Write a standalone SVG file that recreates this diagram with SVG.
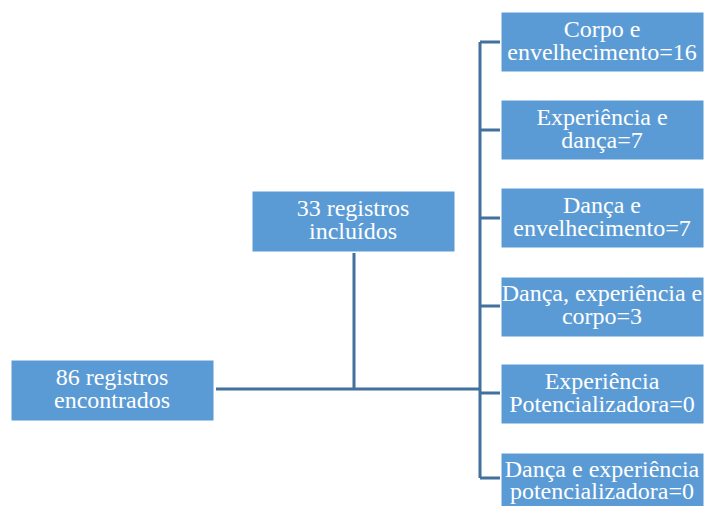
<svg xmlns="http://www.w3.org/2000/svg" width="704" height="506" viewBox="0 0 704 506">
<style>
.box{fill:#5B9BD5;stroke:#FFFFFF;stroke-width:1}
.t{font-family:'Liberation Serif','Times New Roman',serif;font-size:24px;fill:#FFFFFF;text-anchor:middle}
.c{stroke:#41719C;stroke-width:3;fill:none}
</style>
<rect width="704" height="506" fill="#FFFFFF"/>
<g id="connectors">
<path class="c" d="M216 389 H480"/>
<path class="c" d="M354 253 V389"/>
<path class="c" d="M480 42 V478"/>
<path class="c" d="M480 42 H500 M480 130 H500 M480 218 H500 M480 306 H500 M480 393 H500 M480 478 H500"/>
</g>
<g id="n86"><rect class="box" x="11" y="360" width="203" height="61"/><text class="t" x="112" y="385">86 registros</text><text class="t" x="112" y="408">encontrados</text></g>
<g id="n33"><rect class="box" x="252" y="191" width="203" height="61"/><text class="t" x="353" y="216">33 registros</text><text class="t" x="353" y="239">incluídos</text></g>
<g id="r1"><rect class="box" x="501" y="12" width="203" height="60"/><text class="t" x="602" y="37">Corpo e</text><text class="t" x="602" y="60">envelhecimento=16</text></g>
<g id="r2"><rect class="box" x="501" y="100" width="203" height="60"/><text class="t" x="602" y="125">Experiência e</text><text class="t" x="602" y="148">dança=7</text></g>
<g id="r3"><rect class="box" x="501" y="188" width="203" height="60"/><text class="t" x="602" y="213">Dança e</text><text class="t" x="602" y="236">envelhecimento=7</text></g>
<g id="r4"><rect class="box" x="501" y="277" width="203" height="60"/><text class="t" x="602" y="301">Dança, experiência e</text><text class="t" x="602" y="324">corpo=3</text></g>
<g id="r5"><rect class="box" x="501" y="364" width="203" height="60"/><text class="t" x="602" y="389">Experiência</text><text class="t" x="602" y="412">Potencializadora=0</text></g>
<g id="r6"><rect class="box" x="501" y="453" width="203" height="60"/><text class="t" x="602" y="477">Dança e experiência</text><text class="t" x="602" y="499">potencializadora=0</text></g>
</svg>
